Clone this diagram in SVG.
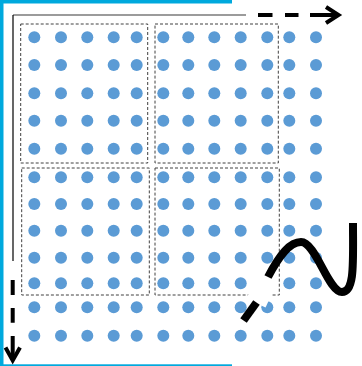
<svg xmlns="http://www.w3.org/2000/svg" xmlns:xlink="http://www.w3.org/1999/xlink" width="362" height="366" viewBox="0 0 362 366">
  <style>
    .dot { fill: #5B9BD5; }
    .box { fill: none; stroke: #404040; stroke-width: 1; stroke-dasharray: 3 2; }
    .thick { fill: none; stroke: #000; stroke-width: 4; }
    .blue { fill: #00A9DD; }
  </style>
  <defs>
    <g id="row">
      <circle class="dot" cx="34.3" cy="0" r="6"/>
      <circle class="dot" cx="61" cy="0" r="6"/>
      <circle class="dot" cx="87.3" cy="0" r="6"/>
      <circle class="dot" cx="113.7" cy="0" r="6"/>
      <circle class="dot" cx="136.7" cy="0" r="6"/>
      <circle class="dot" cx="163.3" cy="0" r="6"/>
      <circle class="dot" cx="188.3" cy="0" r="6"/>
      <circle class="dot" cx="214.3" cy="0" r="6"/>
      <circle class="dot" cx="240.7" cy="0" r="6"/>
      <circle class="dot" cx="267.3" cy="0" r="6"/>
      <circle class="dot" cx="289.3" cy="0" r="6"/>
      <circle class="dot" cx="316" cy="0" r="6"/>
    </g>
  </defs>
  <rect width="362" height="366" fill="#fff"/>
  <g id="frame">
    <rect class="blue" x="0" y="0" width="232" height="3.5"/>
    <rect class="blue" x="0" y="0" width="3.5" height="366"/>
    <rect class="blue" x="0" y="364.3" width="232" height="1.7"/>
    <line x1="13" y1="15" x2="246" y2="15" stroke="#7a7a7a" stroke-width="1.5"/>
    <line x1="13" y1="15" x2="13" y2="261" stroke="#000" stroke-width="1.2"/>
  </g>
  <g id="dots">
    <use xlink:href="#row" href="#row" y="37.3"/>
    <use xlink:href="#row" href="#row" y="65"/>
    <use xlink:href="#row" href="#row" y="93.3"/>
    <use xlink:href="#row" href="#row" y="120.7"/>
    <use xlink:href="#row" href="#row" y="148.7"/>
    <use xlink:href="#row" href="#row" y="177.3"/>
    <use xlink:href="#row" href="#row" y="204"/>
    <use xlink:href="#row" href="#row" y="230.7"/>
    <use xlink:href="#row" href="#row" y="257.7"/>
    <use xlink:href="#row" href="#row" y="283.3"/>
    <use xlink:href="#row" href="#row" y="307.3"/>
    <use xlink:href="#row" href="#row" y="335.7"/>
  </g>
  <g id="blocks">
    <rect id="block1" class="box" x="20.7" y="24" width="127" height="139"/>
    <rect id="block2" class="box" x="155" y="24" width="123.3" height="139"/>
    <rect id="block3" class="box" x="21.7" y="168" width="127.6" height="127"/>
    <rect id="block4" class="box" x="155" y="168" width="124.3" height="127"/>
  </g>
  <g id="connectors">
    <path class="thick" d="M258,15H272.5M285,15H298.5M310,15H337.5"/>
    <polyline class="thick" points="326,7 338.5,15 326,23"/>
    <path class="thick" d="M12.7,280V295M12.7,308V322.7M12.7,336V359.5"/>
    <polyline class="thick" points="5.5,347.5 12.7,360.5 20,347.5"/>
    <line x1="256" y1="303" x2="268.5" y2="276" stroke="#fff" stroke-width="21"/>
    <line x1="256.5" y1="302.5" x2="243.5" y2="320.5" stroke="#000" stroke-width="8"/>
    <path d="M268,277 C280,254 290,242 301,242 C316,242 328,292 342,292 C355,292 353,262 353,223" fill="none" stroke="#000" stroke-width="8"/>
  </g>
</svg>
